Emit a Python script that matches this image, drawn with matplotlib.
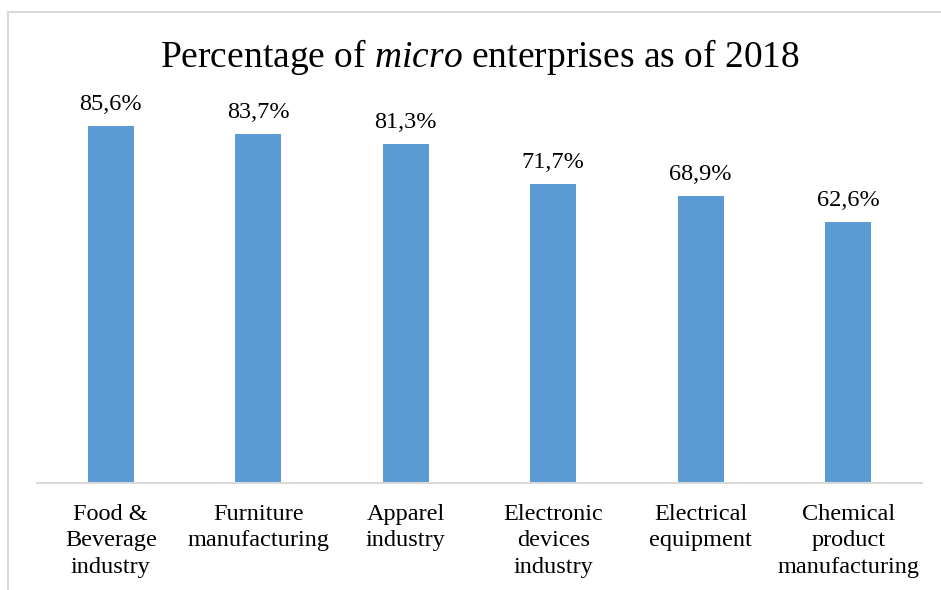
import matplotlib
matplotlib.use('Agg')
import matplotlib.pyplot as plt
from matplotlib.patches import Rectangle

plt.rcParams['font.family'] = 'Liberation Serif'
plt.rcParams['mathtext.fontset'] = 'custom'
plt.rcParams['mathtext.rm'] = 'Liberation Serif'
plt.rcParams['mathtext.it'] = 'Liberation Serif:italic'

categories = ['Food &\nBeverage\nindustry', 'Furniture\nmanufacturing',
              'Apparel\nindustry', 'Electronic\ndevices\nindustry',
              'Electrical\nequipment', 'Chemical\nproduct\nmanufacturing']
shares = [85.6, 83.7, 81.3, 71.7, 68.9, 62.6]
labels = ['85,6%', '83,7%', '81,3%', '71,7%', '68,9%', '62,6%']

W, H = 941, 590
fig = plt.figure(figsize=(W / 100, H / 100), dpi=100)
ax = fig.add_axes([37 / W, 1 - 483 / H, 885 / W, 417 / H])

x = range(len(shares))
bars = ax.bar(x, shares, width=0.31, color='#5B9BD5', zorder=2)
for b, lab in zip(bars, labels):
    ax.annotate(lab, (b.get_x() + b.get_width() / 2, b.get_height()),
                xytext=(0, 8), textcoords='offset points',
                ha='center', va='bottom', fontsize=17.5)

ax.set_xlim(-0.5, len(shares) - 0.5)
ax.set_ylim(0, 100)
ax.set_xticks(list(x))
ax.set_xticklabels(categories, fontsize=17.5, linespacing=1.34, va='top')
ax.tick_params(axis='x', length=0, pad=15)
ax.set_yticks([])
for side in ['left', 'right', 'top']:
    ax.spines[side].set_visible(False)
ax.spines['bottom'].set_color('#D9D9D9')
ax.spines['bottom'].set_linewidth(1.5)

fig.text(480 / W, 1 - 67 / H, r'Percentage of $\it{micro}$ enterprises as of 2018',
         ha='center', va='baseline', fontsize=27)

# chart frame, runs off the right and bottom edges
fig.patches.append(Rectangle((7.5 / W, -0.05), 1.1, 1.05 - 11.5 / H,
                             transform=fig.transFigure, fill=False,
                             edgecolor='#D9D9D9', linewidth=1.5, clip_on=False))

fig.savefig('out.png', dpi=100)
